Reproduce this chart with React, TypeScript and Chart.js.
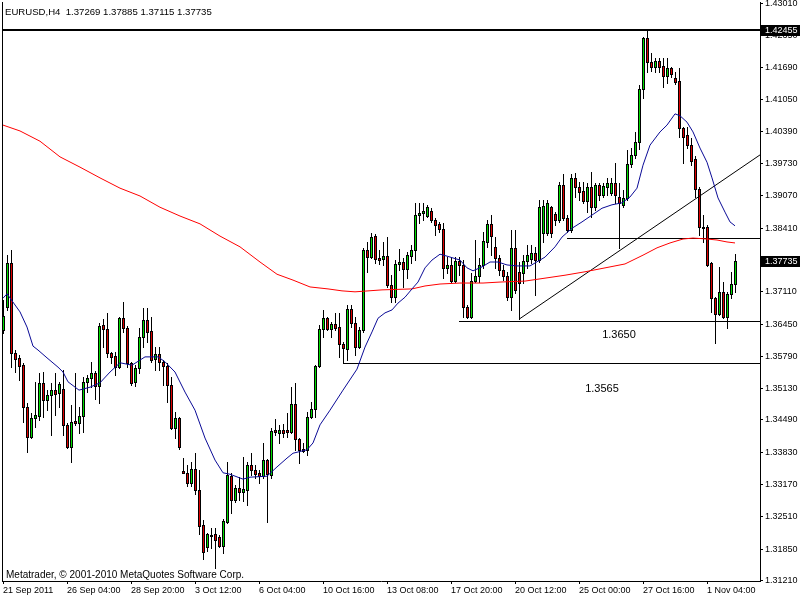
import { useEffect, useRef } from "react";
import { Chart, registerables } from "chart.js";

Chart.register(...registerables);

// ---------- DATA (EURUSD H4 candles) ----------
const opens = [
  1.3633, 1.3680, 1.3770, 1.3586, 1.3576, 1.3561, 1.3476, 1.3414, 1.3453, 1.3457,
  1.3525, 1.3490, 1.3500, 1.3510, 1.3504, 1.3512, 1.3439, 1.3394, 1.3447, 1.3443,
  1.3457, 1.3527, 1.3535, 1.3545, 1.3518, 1.3643, 1.3635, 1.3586, 1.3580, 1.3557,
  1.3657, 1.3637, 1.3566, 1.3527, 1.3555, 1.3619, 1.3653, 1.3631, 1.3574, 1.3584,
  1.3568, 1.3559, 1.3521, 1.3433, 1.3453, 1.3345, 1.3341, 1.3320, 1.3349, 1.3306,
  1.3234, 1.3189, 1.3214, 1.3216, 1.3210, 1.3191, 1.3240, 1.3334, 1.3285, 1.3310,
  1.3302, 1.3306, 1.3357, 1.3347, 1.3341, 1.3334, 1.3367, 1.3336, 1.3428, 1.3422,
  1.3428, 1.3428, 1.3424, 1.3482, 1.3410, 1.3390, 1.3388, 1.3455, 1.3471, 1.3559,
  1.3635, 1.3657, 1.3635, 1.3645, 1.3639, 1.3604, 1.3594, 1.3676, 1.3647, 1.3598,
  1.3633, 1.3797, 1.3782, 1.3825, 1.3780, 1.3778, 1.3784, 1.3725, 1.3700, 1.3768,
  1.3772, 1.3758, 1.3784, 1.3797, 1.3868, 1.3872, 1.3866, 1.3876, 1.3858, 1.3850,
  1.3840, 1.3760, 1.3766, 1.3733, 1.3774, 1.3766, 1.3680, 1.3659, 1.3733, 1.3743,
  1.3766, 1.3813, 1.3850, 1.3803, 1.3780, 1.3755, 1.3743, 1.3700, 1.3801, 1.3752,
  1.3749, 1.3774, 1.3778, 1.3790, 1.3776, 1.3831, 1.3831, 1.3884, 1.3870, 1.3858,
  1.3930, 1.3862, 1.3838, 1.3944, 1.3925, 1.3917, 1.3897, 1.3925, 1.3884, 1.3930,
  1.3909, 1.3925, 1.3913, 1.3934, 1.3905, 1.3889, 1.3903, 1.3972, 1.3991, 1.4017,
  1.4126, 1.4230, 1.4181, 1.4171, 1.4183, 1.4173, 1.4152, 1.4169, 1.4148, 1.4142,
  1.4046, 1.4032, 1.4011, 1.3983, 1.3921, 1.3844, 1.3844, 1.3770, 1.3698, 1.3666,
  1.3711, 1.3659, 1.3707, 1.37269,
];
const highs = [
  1.3694, 1.3786, 1.3797, 1.3592, 1.3582, 1.3566, 1.3484, 1.3463, 1.3527, 1.3545,
  1.3547, 1.3510, 1.3525, 1.3545, 1.3527, 1.3551, 1.3443, 1.3480, 1.3545, 1.3476,
  1.3537, 1.3541, 1.3568, 1.3549, 1.3647, 1.3655, 1.3668, 1.3588, 1.3588, 1.3659,
  1.3690, 1.3641, 1.3568, 1.3561, 1.3637, 1.3678, 1.3678, 1.3659, 1.3598, 1.3598,
  1.3572, 1.3566, 1.3537, 1.3465, 1.3455, 1.3371, 1.3357, 1.3363, 1.3381, 1.3347,
  1.3244, 1.3218, 1.3228, 1.3228, 1.3214, 1.3246, 1.3363, 1.3340, 1.3316, 1.3332,
  1.3373, 1.3363, 1.3381, 1.3357, 1.3347, 1.3402, 1.3369, 1.3433, 1.3451, 1.3439,
  1.3441, 1.3463, 1.3516, 1.3525, 1.3412, 1.3402, 1.3465, 1.3486, 1.3561, 1.3643,
  1.3674, 1.3659, 1.3649, 1.3668, 1.3668, 1.3608, 1.3684, 1.3684, 1.3659, 1.3639,
  1.3801, 1.3813, 1.3831, 1.3829, 1.3797, 1.3813, 1.3823, 1.3745, 1.3776, 1.3799,
  1.3780, 1.3792, 1.3807, 1.3893, 1.3893, 1.3893, 1.3888, 1.3882, 1.3862, 1.3854,
  1.3852, 1.3782, 1.3782, 1.3782, 1.3782, 1.3776, 1.3684, 1.3750, 1.3817, 1.3780,
  1.3833, 1.3858, 1.3868, 1.3823, 1.3786, 1.3766, 1.3752, 1.3838, 1.3838, 1.3772,
  1.3786, 1.3807, 1.3807, 1.3803, 1.3899, 1.3899, 1.3899, 1.3886, 1.3874, 1.3936,
  1.3952, 1.3868, 1.3952, 1.3954, 1.3936, 1.3936, 1.3934, 1.3956, 1.3934, 1.3934,
  1.3934, 1.3944, 1.3944, 1.3974, 1.3934, 1.3919, 1.4001, 1.4005, 1.4038, 1.4134,
  1.4232, 1.42455, 1.4199, 1.4189, 1.4189, 1.4189, 1.4189, 1.4171, 1.4161, 1.4169,
  1.4048, 1.4048, 1.4026, 1.3989, 1.3925, 1.3868, 1.3848, 1.3772, 1.3700, 1.3762,
  1.3731, 1.3711, 1.3752, 1.37885,
];
const lows = [
  1.3627, 1.3674, 1.3557, 1.3547, 1.3531, 1.3445, 1.3383, 1.3412, 1.3435, 1.3449,
  1.3455, 1.3469, 1.3418, 1.3459, 1.3476, 1.3418, 1.3392, 1.3363, 1.3439, 1.3422,
  1.3424, 1.3506, 1.3516, 1.3492, 1.3484, 1.3598, 1.3578, 1.3566, 1.3541, 1.3555,
  1.3629, 1.3557, 1.3521, 1.3518, 1.3545, 1.3598, 1.3608, 1.3568, 1.3551, 1.3551,
  1.3521, 1.3486, 1.3431, 1.3412, 1.3390, 1.3341, 1.3314, 1.3314, 1.3298, 1.3216,
  1.3164, 1.3181, 1.3187, 1.3146, 1.3189, 1.3177, 1.3238, 1.3258, 1.3281, 1.3285,
  1.3283, 1.3275, 1.3336, 1.3330, 1.3320, 1.3330, 1.3240, 1.3330, 1.3418, 1.3402,
  1.3414, 1.3414, 1.3422, 1.3388, 1.3361, 1.3383, 1.3377, 1.3453, 1.3455, 1.3557,
  1.3619, 1.3633, 1.3619, 1.3633, 1.3578, 1.3566, 1.3572, 1.3639, 1.3582, 1.3596,
  1.3629, 1.3752, 1.3780, 1.3770, 1.3768, 1.3766, 1.3721, 1.3690, 1.3690, 1.3756,
  1.3721, 1.3739, 1.3770, 1.3776, 1.3852, 1.3858, 1.3864, 1.3854, 1.3827, 1.3833,
  1.3739, 1.3750, 1.3731, 1.3731, 1.3745, 1.3659, 1.3657, 1.3657, 1.3731, 1.3731,
  1.3760, 1.3803, 1.3786, 1.3760, 1.3745, 1.3735, 1.3694, 1.3674, 1.3709, 1.3655,
  1.3729, 1.3760, 1.3770, 1.3704, 1.3772, 1.3813, 1.3827, 1.3823, 1.3848, 1.3854,
  1.3858, 1.3833, 1.3833, 1.3905, 1.3899, 1.3893, 1.3874, 1.3864, 1.3878, 1.3899,
  1.3905, 1.3909, 1.3909, 1.3893, 1.3801, 1.3884, 1.3899, 1.3966, 1.3985, 1.4003,
  1.4107, 1.4161, 1.4163, 1.4161, 1.4161, 1.4130, 1.4138, 1.4150, 1.4136, 1.4028,
  1.3974, 1.4005, 1.3970, 1.3905, 1.3827, 1.3813, 1.3764, 1.3670, 1.3606, 1.3664,
  1.3657, 1.3637, 1.3698, 1.37115,
];
const closes = [
  1.3662, 1.3770, 1.3586, 1.3574, 1.3559, 1.3476, 1.3414, 1.3453, 1.3459, 1.3525,
  1.3490, 1.3500, 1.3510, 1.3502, 1.3523, 1.3439, 1.3394, 1.3445, 1.3443, 1.3457,
  1.3527, 1.3535, 1.3545, 1.3518, 1.3641, 1.3635, 1.3586, 1.3578, 1.3557, 1.3657,
  1.3637, 1.3566, 1.3525, 1.3555, 1.3619, 1.3653, 1.3629, 1.3572, 1.3584, 1.3568,
  1.3559, 1.3521, 1.3433, 1.3453, 1.3394, 1.3341, 1.3320, 1.3349, 1.3306, 1.3232,
  1.3179, 1.3216, 1.3212, 1.3204, 1.3191, 1.3242, 1.3336, 1.3285, 1.3310, 1.3302,
  1.3308, 1.3357, 1.3347, 1.3338, 1.3334, 1.3367, 1.3338, 1.3426, 1.3424, 1.3428,
  1.3422, 1.3424, 1.3482, 1.3410, 1.3388, 1.3386, 1.3455, 1.3471, 1.3559, 1.3635,
  1.3657, 1.3635, 1.3645, 1.3637, 1.3604, 1.3596, 1.3676, 1.3647, 1.3598, 1.3633,
  1.3797, 1.3782, 1.3823, 1.3778, 1.3776, 1.3784, 1.3725, 1.3700, 1.3768, 1.3772,
  1.3758, 1.3786, 1.3797, 1.3868, 1.3872, 1.3876, 1.3884, 1.3858, 1.3848, 1.3840,
  1.3760, 1.3766, 1.3733, 1.3774, 1.3766, 1.3680, 1.3659, 1.3733, 1.3743, 1.3766,
  1.3815, 1.3850, 1.3825, 1.3780, 1.3755, 1.3743, 1.3700, 1.3801, 1.3715, 1.3729,
  1.3774, 1.3786, 1.3790, 1.3776, 1.3884, 1.3886, 1.3893, 1.3831, 1.3858, 1.3930,
  1.3862, 1.3838, 1.3944, 1.3925, 1.3915, 1.3897, 1.3925, 1.3884, 1.3930, 1.3909,
  1.3927, 1.3934, 1.3934, 1.3909, 1.3893, 1.3903, 1.3972, 1.3991, 1.4017, 1.4126,
  1.4230, 1.4181, 1.4171, 1.4183, 1.4171, 1.4152, 1.4169, 1.4156, 1.4140, 1.4046,
  1.4028, 1.4011, 1.3978, 1.3921, 1.3844, 1.3842, 1.3766, 1.3698, 1.3666, 1.3711,
  1.3659, 1.3707, 1.3727, 1.37735,
];

// Moving averages (bar position, price)
const blueMaBars = [
  0, 1, 4.25, 6, 7.5, 8.75, 11, 13.75, 15, 16.25, 19, 21.75, 24.25, 26.75, 29.25,
  32.25, 35.5, 38.75, 40.5, 43, 45.5, 48, 50.5, 53, 55, 56.75, 60, 61.75, 66, 68.5,
  71, 72.5, 76, 77.5, 79.25, 81.75, 85, 88.5, 90.5, 92.25, 93.75, 95.5, 97.25,
  98.75, 100.5, 102.25, 103.75, 105.5, 107.25, 109.25, 111, 114.25, 116, 117.5,
  119.75, 121.75, 123.75, 126, 128.5, 131.75, 135.5, 138, 139.75, 142.25, 144.75,
  147.25, 149.75, 152.25, 154.75, 156.75, 158.5, 160, 161.75, 164.25, 166, 168,
  169.25, 171, 172.5, 174.25, 176, 177.25, 178.75, 180.5, 181.75, 183,
];
const blueMaValues = [
  1.3698, 1.3707, 1.3670, 1.3639, 1.3600, 1.3592, 1.3576, 1.3557, 1.3547, 1.3527,
  1.3510, 1.3516, 1.3525, 1.3547, 1.3566, 1.3561, 1.3578, 1.3578, 1.3568, 1.3547,
  1.3506, 1.3469, 1.3412, 1.3367, 1.3341, 1.3338, 1.3328, 1.3332, 1.3334, 1.3353,
  1.3371, 1.3381, 1.3388, 1.3402, 1.3439, 1.3469, 1.3510, 1.3553, 1.3598, 1.3629,
  1.3657, 1.3668, 1.3674, 1.3688, 1.3700, 1.3717, 1.3731, 1.3760, 1.3776, 1.3788,
  1.3784, 1.3776, 1.3760, 1.3754, 1.3762, 1.3772, 1.3772, 1.3766, 1.3764, 1.3764,
  1.3782, 1.3803, 1.3823, 1.3841, 1.3854, 1.3868, 1.3882, 1.3889, 1.3893, 1.3905,
  1.3923, 1.3970, 1.4011, 1.4038, 1.4052, 1.4075, 1.4071, 1.4058, 1.4038, 1.4005,
  1.3976, 1.3944, 1.3903, 1.3874, 1.3854, 1.3846,
];
const redMaBars = [
  0, 4.25, 9.25, 14.25, 19.25, 24.25, 29.25, 34.25, 39.25, 44.25, 49.25, 54.25,
  59.25, 64.25, 68.5, 72.5, 76.75, 81.25, 84.75, 88, 94.75, 102.25, 105.5, 109.25,
  114.25, 120, 124.25, 130.5, 135.5, 140.5, 145.5, 150.5, 155.5, 160, 163.5, 166.75,
  170, 172.5, 176, 178.5, 181, 183,
];
const redMaValues = [
  1.4052, 1.4040, 1.4019, 1.3987, 1.3966, 1.3944, 1.3923, 1.3907, 1.3884, 1.3866,
  1.3850, 1.3825, 1.3803, 1.3772, 1.3747, 1.3735, 1.3721, 1.3717, 1.3713, 1.3711,
  1.3715, 1.3717, 1.3723, 1.3727, 1.3729, 1.3729, 1.3731, 1.3733, 1.3739, 1.3745,
  1.3752, 1.3760, 1.3768, 1.3786, 1.3801, 1.3811, 1.3819, 1.3821, 1.3819, 1.3817,
  1.3813, 1.3811,
];

// Horizontal levels and trend line
const levelPrices = [1.42455, 1.3821, 1.3652, 1.3565];
const levelStartBars = [-0.25, 141, 114, 85];
const trendBars = [129, 189.25];
const trendPrices = [1.3655, 1.3991];

// Axis ticks
const dateTickBars = [0, 16, 32, 48, 64, 80, 96, 112, 128, 144, 160, 176];
const dateLabels = [
  "21 Sep 2011", "26 Sep 04:00", "28 Sep 20:00", "3 Oct 12:00", "6 Oct 04:00",
  "10 Oct 16:00", "13 Oct 08:00", "17 Oct 20:00", "20 Oct 12:00", "25 Oct 00:00",
  "27 Oct 16:00", "1 Nov 04:00",
];
const priceTicks = [
  1.4301, 1.4235, 1.4169, 1.4105, 1.4039, 1.3973, 1.3907, 1.3841, 1.3775, 1.3711,
  1.3645, 1.3579, 1.3513, 1.3449, 1.3383, 1.3317, 1.3251, 1.3185, 1.3121,
];
const markerPrices = [1.42455, 1.37735];

// Text notes on the chart
const noteTexts = ["1.3650", "1.3565"];
const noteBars = [154, 149.75];
const notePrices = [1.3623, 1.3512];
const headerText = "EURUSD,H4  1.37269 1.37885 1.37115 1.37735";
const footerText = "Metatrader, \u00A9 2001-2010 MetaQuotes Software Corp.";

const FONT = '"Liberation Sans", Arial, sans-serif';
const UP = "#00dd00";
const DOWN = "#dd0000";

const mtPlugin = {
  id: "mtCandles",
  beforeDatasetsDraw(chart: any) {
    const { ctx, chartArea: a, scales } = chart;
    const x = scales.x;
    const y = scales.y;
    ctx.save();
    ctx.beginPath();
    ctx.rect(a.left, a.top, a.right - a.left, a.bottom - a.top);
    ctx.clip();
    ctx.fillStyle = "#000";
    levelPrices.forEach((p, k) => {
      const py = Math.round(y.getPixelForValue(p));
      const x0 = Math.round(x.getPixelForValue(levelStartBars[k]));
      const w = k === 0 ? 2 : 1;
      ctx.fillRect(x0, py - (w - 1), a.right - x0, w);
    });
    for (let i = 0; i < opens.length; i++) {
      const xi = Math.round(x.getPixelForValue(i));
      const yH = Math.round(y.getPixelForValue(highs[i]));
      const yL = Math.round(y.getPixelForValue(lows[i]));
      const yO = Math.round(y.getPixelForValue(opens[i]));
      const yC = Math.round(y.getPixelForValue(closes[i]));
      ctx.fillStyle = "#000";
      ctx.fillRect(xi, yH, 1, yL - yH + 1);
      const top = Math.min(yO, yC);
      const h = Math.abs(yO - yC) + 1;
      ctx.fillRect(xi - 1, top, 3, h);
      if (h > 2) {
        ctx.fillStyle = closes[i] >= opens[i] ? UP : DOWN;
        ctx.fillRect(xi, top + 1, 1, h - 2);
      }
    }
    ctx.restore();
  },
  afterDraw(chart: any) {
    const { ctx, chartArea: a, scales } = chart;
    const x = scales.x;
    const y = scales.y;
    ctx.save();
    ctx.fillStyle = "#000";
    ctx.fillRect(a.left, a.top, 1, a.bottom - a.top);
    ctx.textBaseline = "middle";
    ctx.font = `11px ${FONT}`;
    ctx.textAlign = "center";
    noteTexts.forEach((t, k) => {
      ctx.fillText(t, x.getPixelForValue(noteBars[k]), y.getPixelForValue(notePrices[k]));
    });
    ctx.textAlign = "left";
    ctx.font = `9.6px ${FONT}`;
    ctx.fillText(headerText, 5, 12);
    ctx.font = `10px ${FONT}`;
    ctx.fillText(footerText, 6, 575);
    ctx.font = `9px ${FONT}`;
    markerPrices.forEach((p) => {
      const py = Math.round(y.getPixelForValue(p));
      ctx.fillStyle = "#000";
      ctx.fillRect(a.right + 1, py - 5, chart.width - a.right - 1, 11);
      ctx.fillStyle = "#fff";
      ctx.fillText(p.toFixed(5), a.right + 5, py + 0.5);
    });
    ctx.restore();
  },
};

export default function App() {
  const ref = useRef<HTMLCanvasElement | null>(null);
  useEffect(() => {
    document.body.style.margin = "0";
    const canvas = ref.current;
    if (!canvas) return;
    const chart = new Chart(canvas, {
      type: "line",
      data: {
        datasets: [
          {
            label: "MA fast",
            data: blueMaBars.map((b, i) => ({ x: b, y: blueMaValues[i] })),
            borderColor: "#0a0a96",
            borderWidth: 1,
            pointRadius: 0,
            tension: 0,
          },
          {
            label: "MA slow",
            data: redMaBars.map((b, i) => ({ x: b, y: redMaValues[i] })),
            borderColor: "#ff0000",
            borderWidth: 1,
            pointRadius: 0,
            tension: 0,
          },
          {
            label: "Trend",
            data: trendBars.map((b, i) => ({ x: b, y: trendPrices[i] })),
            borderColor: "#000",
            borderWidth: 1,
            pointRadius: 0,
          },
        ],
      },
      options: {
        animation: false,
        responsive: false,
        devicePixelRatio: 1,
        events: [],
        layout: { padding: { left: 2, top: 2, right: 0, bottom: 0 } },
        plugins: { legend: { display: false }, tooltip: { enabled: false } },
        scales: {
          x: {
            type: "linear",
            position: "bottom",
            min: -0.25,
            max: 189.25,
            grid: { drawOnChartArea: false, drawTicks: true, tickLength: 3, color: "#000" },
            border: { display: true, color: "#000" },
            afterBuildTicks: (s: any) => {
              s.ticks = dateTickBars.map((v) => ({ value: v }));
            },
            afterFit: (s: any) => {
              s.height = 19;
              s.paddingLeft = 0;
              s.paddingRight = 0;
            },
            ticks: {
              autoSkip: false,
              maxRotation: 0,
              align: "start",
              padding: 1,
              color: "#000",
              font: { family: FONT, size: 9 },
              callback: (v: any) => {
                const k = dateTickBars.indexOf(Number(v));
                return k >= 0 ? dateLabels[k] : "";
              },
            },
          },
          y: {
            type: "linear",
            position: "right",
            min: 1.31197,
            max: 1.43037,
            grid: { drawOnChartArea: false, drawTicks: true, tickLength: 3, color: "#000" },
            border: { display: true, color: "#000" },
            afterBuildTicks: (s: any) => {
              s.ticks = priceTicks.map((v) => ({ value: v }));
            },
            afterFit: (s: any) => {
              s.width = 40;
              s.paddingTop = 0;
              s.paddingBottom = 0;
            },
            ticks: {
              autoSkip: false,
              padding: 2,
              color: "#000",
              font: { family: FONT, size: 9 },
              callback: (v: any) => Number(v).toFixed(5),
            },
          },
        },
      },
      plugins: [mtPlugin],
    } as any);
    return () => chart.destroy();
  }, []);
  return <canvas ref={ref} width={800} height={600} style={{ display: "block" }} />;
}
